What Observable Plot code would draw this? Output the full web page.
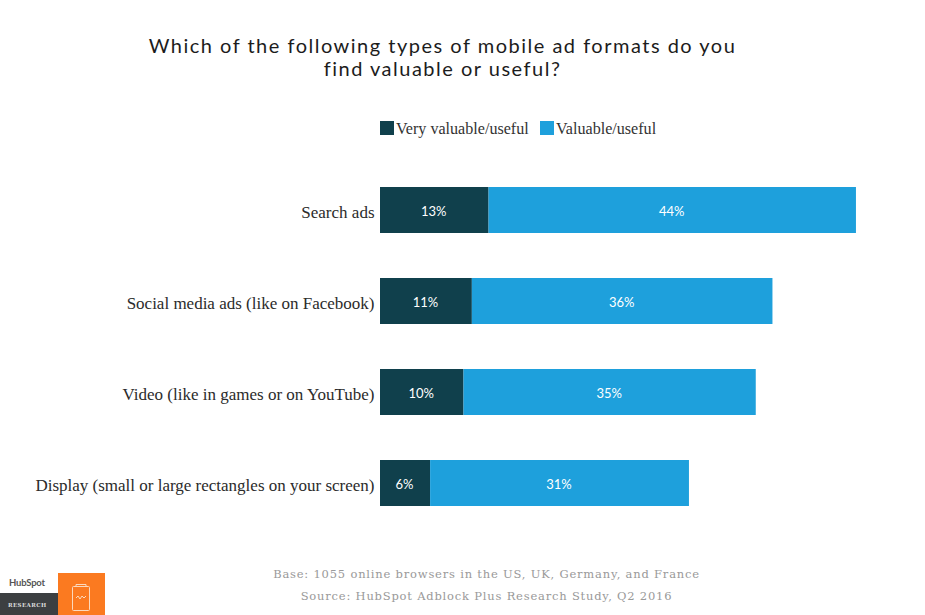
<!DOCTYPE html>
<html><head><meta charset="utf-8">
<script src="https://cdn.jsdelivr.net/npm/d3@7"></script>
<script src="https://cdn.jsdelivr.net/npm/@observablehq/plot@0.6"></script>
<style>
html,body{margin:0;padding:0;background:#fff;}
body{width:925px;height:615px;position:relative;overflow:hidden;}
.abs{position:absolute;white-space:nowrap;}
#title{left:0;width:885px;top:34px;text-align:center;font:20px/23px Lato,sans-serif;letter-spacing:1.5px;color:#1c1c1c;}
.leg{top:120px;font:16.1px/18px "Liberation Serif",serif;color:#333;}
.sw{width:14px;height:14px;top:121px;}
.cap{left:0;width:973px;text-align:center;font:11.5px/16px "DejaVu Serif",serif;letter-spacing:.8px;color:#999;}
#chart{left:0;top:163.6px;}
</style></head><body>
<div id="title" class="abs">Which of the following types of mobile ad formats do you<br>find valuable or useful?</div>
<div id="legend"></div>
<div id="chart" class="abs"></div>
<div class="abs cap" style="top:566px">Base: 1055 online browsers in the US, UK, Germany, and France</div>
<div class="abs cap" style="top:588px">Source: HubSpot Adblock Plus Research Study, Q2 2016</div>
<div class="abs" style="left:9px;top:577px;font:bold 9.5px/12px Lato,sans-serif;color:#555;letter-spacing:-.2px">HubSpot</div>
<div class="abs" style="left:0;top:593px;width:58px;height:22px;background:#3c3f41"></div>
<div class="abs" style="left:8px;top:601px;font:bold 5.5px/8px 'DejaVu Serif',serif;color:#ddd;letter-spacing:.4px">RESEARCH</div>
<div class="abs" style="left:58px;top:573px;width:47px;height:42px;background:#fb7a20"></div>
<svg class="abs" style="left:70px;top:583px" width="22" height="32" viewBox="0 0 22 32" fill="none" stroke="#fbd9bd" stroke-width="1"><rect x="2.5" y="3.5" width="17" height="24" rx="1"/><path d="M6 3.5V1.5H16V3.5"/><path d="M6 15l2 -2 2 3 2 -3 2 2 2 -2"/></svg>
<script>
const categories = ["Search ads","Social media ads (like on Facebook)","Video (like in games or on YouTube)","Display (small or large rectangles on your screen)"];
const seriesNames = ["Very valuable/useful","Valuable/useful"];
const veryValuable = [13,11,10,6];
const valuable = [44,36,35,31];
const colors = ["#10404c","#1ea0dc"];
const legendLeft = [380,540];

const rows = [];
categories.forEach((c,i)=>{
  rows.push({category:c,series:seriesNames[0],value:veryValuable[i]});
  rows.push({category:c,series:seriesNames[1],value:valuable[i]});
});
const stack = {x:"value",y:"category",z:"series"};
const plot = Plot.plot({
  width:925,height:365,
  marginLeft:380,marginRight:2.25,marginTop:0,marginBottom:0,
  x:{domain:[0,65],axis:null},
  y:{domain:categories,paddingInner:0.49,paddingOuter:0.245,label:null},
  color:{domain:seriesNames,range:colors},
  style:{background:"transparent"},
  marks:[
    Plot.barX(rows,Plot.stackX({...stack,fill:"series"})),
    Plot.text(rows,Plot.stackX({...stack,text:d=>d.value+"%",fill:"#fff",fontSize:13,fontFamily:"Lato, sans-serif",dx:-1,dy:1})),
    Plot.axisY({tickSize:0,tickPadding:6,fontSize:17,fontFamily:"Liberation Serif, serif",color:"#2b2b2b",dy:2,label:null})
  ]
});
document.getElementById("chart").appendChild(plot);
const lg = document.getElementById("legend");
seriesNames.forEach((s,i)=>{
  const sw=document.createElement("div");sw.className="abs sw";sw.style.left=legendLeft[i]+"px";sw.style.background=colors[i];lg.appendChild(sw);
  const t=document.createElement("div");t.className="abs leg";t.style.left=(legendLeft[i]+16)+"px";t.textContent=s;lg.appendChild(t);
});
</script>
</body></html>
